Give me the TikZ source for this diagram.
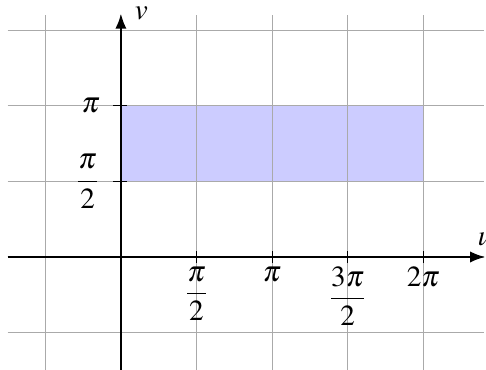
\documentclass[tikz,border=0pt]{standalone}
\usepackage{mathptmx}
\usetikzlibrary{arrows.meta,positioning}
\definecolor{GridGray}{RGB}{170,170,170}
\definecolor{RegionBlue}{RGB}{204,204,255}
\tikzset{
  gridline/.style={draw=GridGray, thin},
  axisline/.style={-{Latex[length=2mm,width=1.5mm]}, thick, black},
  tickmark/.style={thin, black},
  ticklabel/.style={inner sep=2pt}
}

\begin{document}
\begin{tikzpicture}[font=\fontsize{11}{13}\selectfont]
  \useasboundingbox (-1.6,-1.495) rectangle (4.83,3.40);

  % region
  \fill[RegionBlue] (0,1) rectangle (4,2);

  % grid
  \foreach \y in {-1,0,1,2,3}
    \draw[gridline] (-1.5,\y) -- (4.8,\y);
  \foreach \x in {-1,0,1,2,3,4}
    \draw[gridline] (\x,-1.5) -- (\x,3.2);

  % axes
  \coordinate (ustart) at (-1.5,0);
  \coordinate (uend) at (4.82,0);
  \coordinate (vstart) at (0,-1.5);
  \coordinate (vend) at (0,3.22);
  \draw[axisline] (ustart) -- (uend);
  \draw[axisline] (vstart) -- (vend);
  \node[anchor=west] (ulabel) at (4.6,0.24) {$u$};
  \node[anchor=west] (vlabel) at (0.06,3.22) {$v$};

  % ticks on u
  \foreach \x/\lab [count=\i] in {1/{\frac{\pi}{2}},2/{\pi},3/{\frac{3\pi}{2}},4/{2\pi}}{
    \coordinate (ut\i) at (\x,0);
    \draw[tickmark] (\x,-0.08) -- (\x,0.08);
    \node[ticklabel, below=0.05 of ut\i] (ul\i) {$\displaystyle\lab$};
  }

  % ticks on v
  \foreach \y/\lab [count=\i] in {1/{\frac{\pi}{2}},2/{\pi}}{
    \coordinate (vt\i) at (0,\y);
    \draw[tickmark] (-0.1,\y) -- (0.08,\y);
    \node[ticklabel, left=0.2 of vt\i] (vl\i) {$\displaystyle\lab$};
  }
\end{tikzpicture}
\end{document}
